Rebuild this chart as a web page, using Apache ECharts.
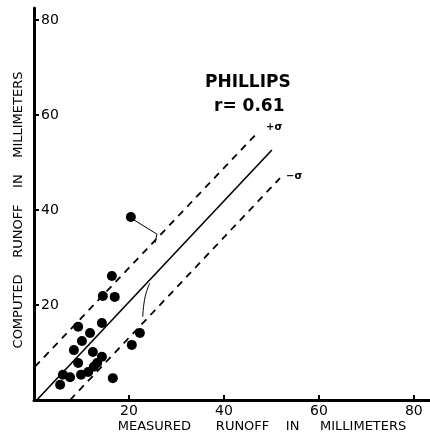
<!DOCTYPE html>
<html>
<head>
<meta charset="utf-8">
<script src="https://cdn.jsdelivr.net/npm/echarts@6/dist/echarts.min.js"></script>
<style>
  html, body { margin: 0; padding: 0; background: #fff; }
  #chart { width: 430px; height: 438px; }
</style>
</head>
<body>
<div id="chart"></div>
<script>
// measured vs computed runoff (mm)
var measured = [20.4, 16.4, 14.5, 17.0, 14.3, 9.3, 11.8, 10.1, 8.4, 12.4, 14.3, 9.3, 13.3, 11.4, 9.9, 7.6, 6.1, 5.5, 16.6, 22.3, 20.6, 12.6];
var computed = [38.5, 26.1, 21.9, 21.7, 16.2, 15.4, 14.1, 12.4, 10.5, 10.1, 9.1, 7.8, 7.8, 5.9, 5.3, 4.8, 5.3, 3.2, 4.6, 14.1, 11.6, 7.0];

// regression line and +/- sigma lines (end points)
var fitLine = [[0.6, 0], [50.1, 52.6]];
var plusSigma = [[0.2, 7.0], [47.2, 56.4]];
var minusSigma = [[7.6, 0], [51.8, 46.7]];

// hand drawn leader marks
var leader1 = [[20.4, 38.3], [25.9, 34.9], [25.5, 33.1]];
var leader2 = [[24.4, 24.6], [23.4, 21.7], [22.9, 17.5]];

var tickValues = [20, 40, 60, 80];

var points = [];
for (var i = 0; i < measured.length; i++) {
    points.push([measured[i], computed[i]]);
}

var chart = echarts.init(document.getElementById('chart'));
var font = 'DejaVu Sans';

var option = {
    backgroundColor: '#fff',
    animation: false,
    grid: { left: 34, right: 0, top: 8, bottom: 38 },
    xAxis: {
        type: 'value',
        min: 0,
        max: 83.4,
        splitLine: { show: false },
        axisLine: { lineStyle: { color: '#000', width: 3 } },
        axisTick: { inside: true, length: 5, customValues: tickValues, lineStyle: { color: '#000', width: 2 } },
        axisLabel: { customValues: tickValues, color: '#000', fontFamily: font, fontSize: 14, margin: 4 }
    },
    yAxis: {
        type: 'value',
        min: 0,
        max: 82.5,
        splitLine: { show: false },
        axisLine: { lineStyle: { color: '#000', width: 3 } },
        axisTick: { inside: true, length: 5, customValues: tickValues, lineStyle: { color: '#000', width: 2 } },
        axisLabel: { inside: true, customValues: tickValues, color: '#000', fontFamily: font, fontSize: 14, margin: 7 }
    },
    series: [
        {
            type: 'scatter',
            data: points,
            symbol: 'circle',
            symbolSize: 10,
            itemStyle: { color: '#000', opacity: 1 }
        },
        {
            type: 'line',
            data: fitLine,
            symbol: 'none',
            lineStyle: { color: '#000', width: 1.6 }
        },
        {
            type: 'line',
            data: plusSigma,
            symbol: 'none',
            lineStyle: { color: '#000', width: 1.8, type: [7, 6] }
        },
        {
            type: 'line',
            data: minusSigma,
            symbol: 'none',
            lineStyle: { color: '#000', width: 1.8, type: [7, 6] }
        },
        {
            type: 'line',
            data: leader1,
            symbol: 'none',
            lineStyle: { color: '#000', width: 1 }
        },
        {
            type: 'line',
            data: leader2,
            symbol: 'none',
            smooth: true,
            lineStyle: { color: '#000', width: 1 }
        }
    ],
    graphic: [
        {
            type: 'text', left: 205, top: 74,
            style: { text: 'PHILLIPS', fill: '#000', font: 'bold 17px ' + font }
        },
        {
            type: 'text', left: 214, top: 98,
            style: { text: 'r= 0.61', fill: '#000', font: 'bold 17px ' + font }
        },
        {
            type: 'text', left: 266, top: 122,
            style: { text: '+σ', fill: '#000', font: 'bold 10px ' + font }
        },
        {
            type: 'text', left: 286, top: 171,
            style: { text: '−σ', fill: '#000', font: 'bold 10px ' + font }
        },
        {
            type: 'text', x: 262, y: 427,
            style: { text: 'MEASURED      RUNOFF    IN     MILLIMETERS', fill: '#000', font: '13px ' + font, align: 'center', verticalAlign: 'middle' }
        },
        {
            type: 'text', x: 19, y: 210, rotation: Math.PI / 2,
            style: { text: 'COMPUTED    RUNOFF    IN    MILLIMETERS', fill: '#000', font: '13px ' + font, align: 'center', verticalAlign: 'middle' }
        }
    ]
};

chart.setOption(option);
</script>
</body>
</html>
